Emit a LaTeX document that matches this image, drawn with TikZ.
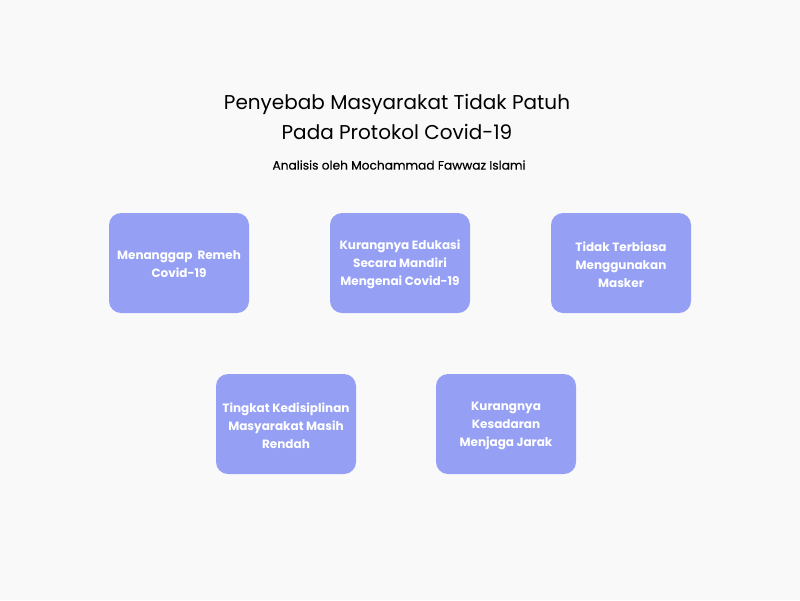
\documentclass[tikz,border=0pt]{standalone}
\usepackage{fontspec}
\setmainfont{Poppins}
\newfontfamily\submed[FakeBold=0.4]{Poppins}
\definecolor{bg}{HTML}{F9F9F9}
\definecolor{boxc}{HTML}{95A0F5}
\begin{document}
\begin{tikzpicture}[x=1pt,y=-1pt,
  card/.style={fill=boxc, draw=none, rounded corners=12pt, minimum width=140pt, minimum height=100pt, inner sep=0pt},
  cardtext/.style={text=white, align=center, font=\fontsize{12}{18}\selectfont\bfseries},
  titletext/.style={align=center, font=\fontsize{20}{30}\selectfont, text=black},
  subtext/.style={font=\submed\fontsize{12.2}{14}\selectfont, text=black}]
\fill[bg] (0,0) rectangle (800,600);
\useasboundingbox (0,0) rectangle (800,600);
\node[titletext] (title) at (397,116.5) {Penyebab Masyarakat Tidak Patuh\\Pada Protokol Covid-19};
\node[subtext] (sub) at (399,165) {Analisis oleh Mochammad Fawwaz Islami};
\node[card] (b1) at (179,263) {};
\node[card] (b2) at (400,263) {};
\node[card] (b3) at (621,263) {};
\node[card] (b4) at (286,424) {};
\node[card] (b5) at (506,424) {};
\node[cardtext] (t1) at ([yshift=-1.5pt]b1.center) {Menanggap\ \ Remeh\\Covid-19};
\node[cardtext] (t2) at ([yshift=-1.5pt]b2.center) {Kurangnya Edukasi\\Secara Mandiri\\Mengenai Covid-19};
\node[cardtext] (t3) at ([yshift=-1.5pt]b3.center) {Tidak Terbiasa\\Menggunakan\\Masker};
\node[cardtext] (t4) at ([yshift=-1.5pt]b4.center) {Tingkat Kedisiplinan\\Masyarakat Masih\\Rendah};
\node[cardtext] (t5) at ([yshift=-1.5pt]b5.center) {Kurangnya\\Kesadaran\\Menjaga Jarak};
\end{tikzpicture}
\end{document}
